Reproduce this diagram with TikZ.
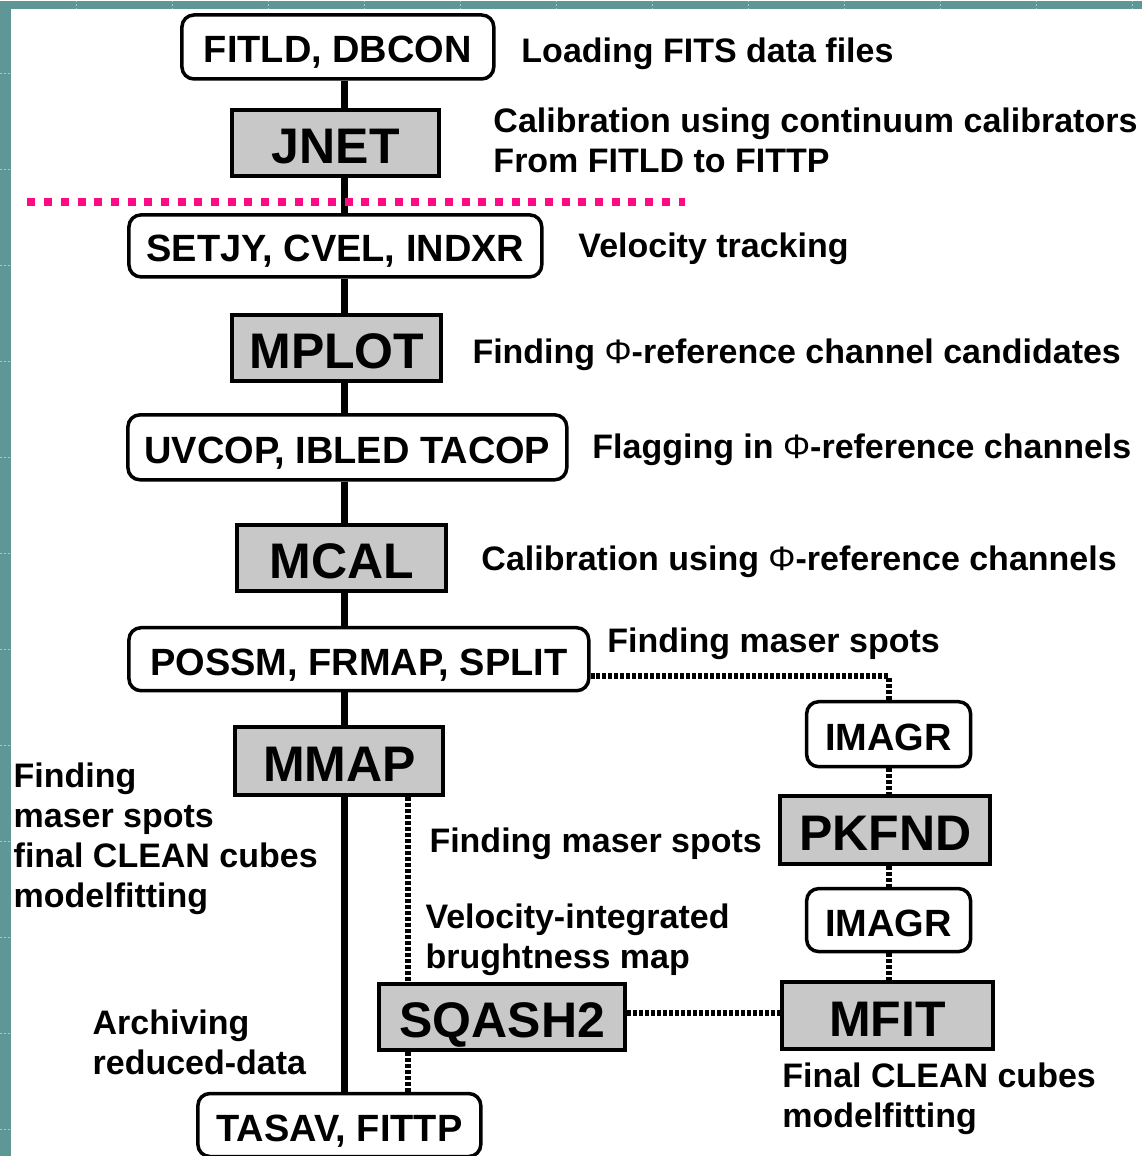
\documentclass[tikz,border=0pt]{standalone}
\usepackage{fontspec}
\setmainfont{Liberation Sans}
\definecolor{slate}{HTML}{5F9797}
\definecolor{slategrid}{HTML}{A6C8C8}
\definecolor{hotpink}{HTML}{FF0A84}
\definecolor{boxgray}{HTML}{C8C8C8}
\newcommand{\phisym}{{\mdseries Φ}}
\tikzset{
  task/.style={draw=black, line width=3.5pt, rounded corners=12pt, fill=white,
    inner sep=0pt, text height=32pt, text depth=0pt,
    font=\bfseries\fontsize{38}{44}\selectfont},
  grayjob/.style={draw=black, line width=4pt, fill=boxgray,
    inner sep=0pt, text height=41pt, text depth=0pt,
    font=\bfseries\fontsize{50}{56}\selectfont},
  note/.style={inner sep=0pt, anchor=base west, font=\bfseries\fontsize{34}{40}\selectfont},
  flow/.style={line width=7pt},
  dotline/.style={line width=6pt, dash pattern=on 4pt off 2pt},
  cutline/.style={hotpink, line width=8pt, dash pattern=on 8pt off 8.7pt},
  gridmark/.style={slategrid, line width=1pt, dash pattern=on 2pt off 2pt},
}
\begin{document}
\begin{tikzpicture}[x=1pt, y=-1pt]
% slide frame
\fill[slate] (0,0) rectangle (1142,1156);
\fill[white] (11,9) rectangle (1142,1156);
\foreach \k in {0,...,11} {
  \draw[gridmark] (0,{73+96*\k}) -- (11,{73+96*\k});
  \draw[gridmark] ({76+96*\k},0) -- ({76+96*\k},9);
}
\useasboundingbox (0,0) rectangle (1142,1156);

% processing chain
\node[task, minimum width=312pt, minimum height=64pt] (fitld) at (337.5,46.5) {FITLD, DBCON};
\node[grayjob, minimum width=207pt, minimum height=66pt] (jnet) at (335.5,143) {JNET};
\node[task, minimum width=413pt, minimum height=62pt] (setjy) at (335,245.5) {SETJY, CVEL, INDXR};
\node[grayjob, minimum width=209pt, minimum height=66pt] (mplot) at (336.5,348) {MPLOT};
\node[task, minimum width=439pt, minimum height=65pt] (uvcop) at (347,447) {UVCOP, IBLED TACOP};
\node[grayjob, minimum width=209pt, minimum height=66pt] (mcal) at (341.5,558) {MCAL};
\node[task, minimum width=460pt, minimum height=63pt] (possm) at (358.5,659) {POSSM, FRMAP, SPLIT};
\node[grayjob, minimum width=208pt, minimum height=68pt] (mmap) at (339,761) {MMAP};
\node[task, minimum width=283pt, minimum height=63pt] (tasav) at (339,1125) {TASAV, FITTP};

% imaging branch
\node[task, minimum width=164pt, minimum height=65pt] (imagrA) at (888.5,734) {IMAGR};
\node[grayjob, minimum width=210pt, minimum height=68pt] (pkfnd) at (885,830) {PKFND};
\node[task, minimum width=164pt, minimum height=63pt] (imagrB) at (888.5,920) {IMAGR};
\node[grayjob, minimum width=246pt, minimum height=66pt] (sqash) at (502,1017) {SQASH2};
\node[grayjob, minimum width=211pt, minimum height=67pt] (mfit) at (887.5,1015.5) {MFIT};

% main spine
\coordinate (spine) at (344,0);
\coordinate (side) at (408,0);
\draw[flow] (fitld.south -| spine) -- (jnet.north -| spine);
\draw[flow] (jnet.south -| spine) -- (setjy.north -| spine);
\draw[flow] (setjy.south -| spine) -- (mplot.north -| spine);
\draw[flow] (mplot.south -| spine) -- (uvcop.north -| spine);
\draw[flow] (uvcop.south -| spine) -- (mcal.north -| spine);
\draw[flow] (mcal.south -| spine) -- (possm.north -| spine);
\draw[flow] (possm.south -| spine) -- (mmap.north -| spine);
\draw[flow] (mmap.south -| spine) -- (tasav.north -| spine);

% dotted side paths
\draw[dotline] (mmap.south -| side) -- (sqash.north -| side);
\draw[dotline] (sqash.south -| side) -- (tasav.north -| side);
\draw[dotline] ([yshift=-17pt]possm.east) -| (imagrA.north);
\draw[dotline] (imagrA.south) -- (pkfnd.north -| imagrA.south);
\draw[dotline] (pkfnd.south -| imagrA.south) -- (imagrB.north);
\draw[dotline] (imagrB.south) -- (mfit.north -| imagrB.south);
\draw[dotline] ([yshift=4pt]sqash.east) -- ([yshift=4pt]sqash.east -| mfit.west);

% boundary between calibration stages
\coordinate (cutL) at (27,202);
\coordinate (cutR) at (685,202);
\draw[cutline] (cutL) -- (cutR);

% descriptions
\node[note] (dLoad) at (521,62) {Loading FITS data files};
\node[note] (dCalA) at (493,132) {Calibration using continuum calibrators};
\node[note] (dCalB) at (493,172) {From FITLD to FITTP};
\node[note] (dVel) at (578,257) {Velocity tracking};
\node[note] (dCand) at (472,363) {Finding \phisym-reference channel candidates};
\node[note] (dFlag) at (592,458) {Flagging in \phisym-reference channels};
\node[note] (dCalC) at (481,570) {Calibration using \phisym-reference channels};
\node[note] (dSpotA) at (607,652) {Finding maser spots};
\node[note] (dLeftA) at (13,787) {Finding};
\node[note] (dLeftB) at (13,827) {maser spots};
\node[note] (dLeftC) at (13,867) {final CLEAN cubes};
\node[note] (dLeftD) at (13,907) {modelfitting};
\node[note] (dSpotB) at (429,852) {Finding maser spots};
\node[note] (dVelA) at (425,928) {Velocity-integrated};
\node[note] (dVelB) at (425,968) {brughtness map};
\node[note] (dArcA) at (92,1034) {Archiving};
\node[note] (dArcB) at (92,1074) {reduced-data};
\node[note] (dFinA) at (782,1087) {Final CLEAN cubes};
\node[note] (dFinB) at (782,1127) {modelfitting};
\end{tikzpicture}
\end{document}
